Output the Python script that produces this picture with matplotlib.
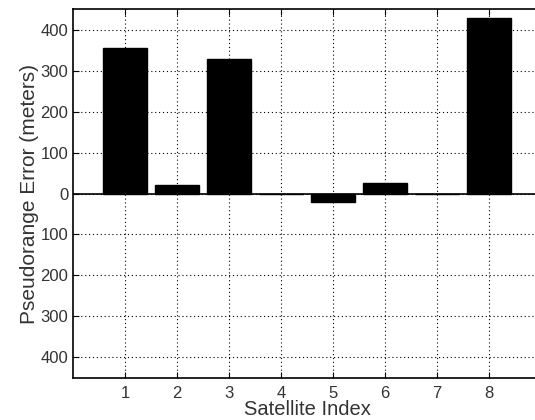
import numpy as np
import matplotlib
matplotlib.use("Agg")
import matplotlib.pyplot as plt

# Dados
satelites = [1, 2, 3, 4, 5, 6, 7, 8]
erros = [357, 21, 329, 0, -21, 25, 0, 429]
yticks = [-400, -300, -200, -100, 0, 100, 200, 300, 400]
ytick_labels = ["400", "300", "200", "100", "0", "100", "200", "300", "400"]

plt.rcParams["font.family"] = ["Liberation Sans", "DejaVu Sans"]

fig = plt.figure(figsize=(5.35, 4.2), dpi=100)
ax = fig.add_axes([73 / 535, 42 / 420, 468 / 535, 369 / 420])

ax.bar(satelites, erros, width=0.83, color="black", edgecolor="black", zorder=3)
ax.axhline(0, color="black", linewidth=1.2, zorder=4)

ax.set_xlim(0, 9)
ax.set_ylim(-452, 452)
ax.set_xticks(satelites)
ax.set_yticks(yticks)
ax.set_yticklabels(ytick_labels)
ax.tick_params(direction="in", labelsize=12, colors="black", top=True, length=4)
ax.tick_params(axis="x", pad=6)
for lab in ax.get_xticklabels() + ax.get_yticklabels():
    lab.set_color("#333333")

ax.grid(True, linestyle=(0, (1, 2.5)), color="black", linewidth=0.8, zorder=1)
for s in ax.spines.values():
    s.set_linewidth(1.2)

ax.set_xlabel("Satellite Index", fontsize=14.5, color="#333333", labelpad=-1)
ax.set_ylabel("Pseudorange Error (meters)", fontsize=15, color="#333333", labelpad=1)

fig.savefig("out.png", dpi=100)
